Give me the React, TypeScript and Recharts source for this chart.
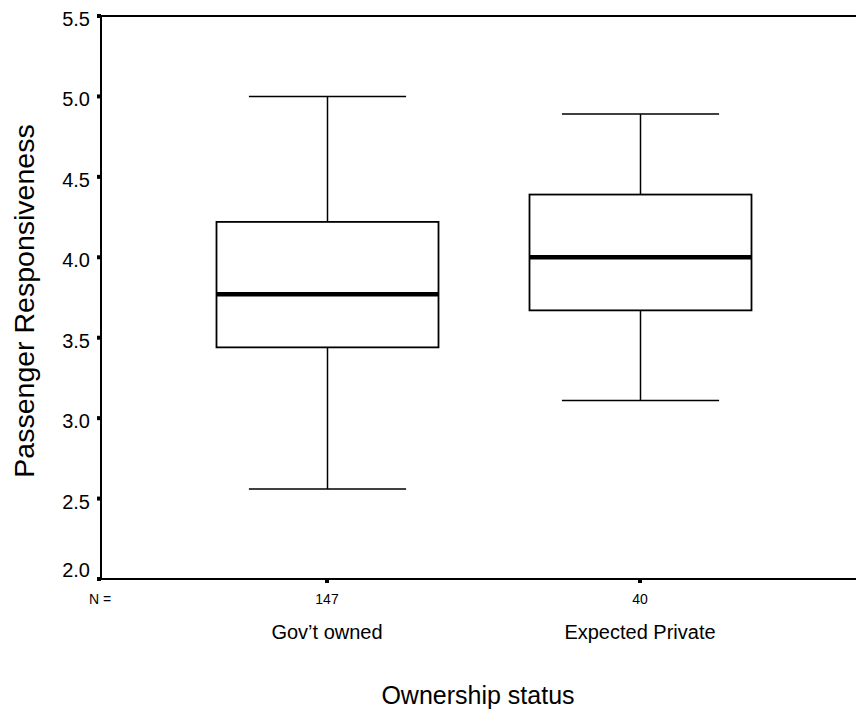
import { ComposedChart, Bar, XAxis, YAxis, ReferenceLine, Label } from "recharts";

const groups = ["Gov’t owned", "Expected Private"];
const counts = [147, 40];
const mins = [2.56, 3.11];
const q1s = [3.44, 3.67];
const medians = [3.77, 4.0];
const q3s = [4.22, 4.39];
const maxs = [5.0, 4.89];
const yTicks = [2.0, 2.5, 3.0, 3.5, 4.0, 4.5, 5.0, 5.5];

const data = groups.map((g, i) => ({
  group: g,
  n: counts[i],
  min: mins[i],
  q1: q1s[i],
  median: medians[i],
  q3: q3s[i],
  max: maxs[i],
  range: [mins[i], maxs[i]],
}));

const BoxShape = (props: any) => {
  const { x, y, width, height, payload } = props;
  const k = height / (payload.max - payload.min);
  const yOf = (v: number) => y + (payload.max - v) * k;
  const cx = x + width / 2;
  const cap = width * 0.354;
  return (
    <g stroke="#000" fill="none">
      <line x1={cx} x2={cx} y1={yOf(payload.max)} y2={yOf(payload.q3)} strokeWidth={1.5} />
      <line x1={cx} x2={cx} y1={yOf(payload.q1)} y2={yOf(payload.min)} strokeWidth={1.5} />
      <line x1={cx - cap} x2={cx + cap} y1={yOf(payload.max)} y2={yOf(payload.max)} strokeWidth={1.5} />
      <line x1={cx - cap} x2={cx + cap} y1={yOf(payload.min)} y2={yOf(payload.min)} strokeWidth={1.5} />
      <rect
        x={x}
        y={yOf(payload.q3)}
        width={width}
        height={yOf(payload.q1) - yOf(payload.q3)}
        fill="#fff"
        strokeWidth={1.8}
      />
      <line x1={x} x2={x + width} y1={yOf(payload.median)} y2={yOf(payload.median)} strokeWidth={4.5} />
    </g>
  );
};

const YTick = ({ x, y, payload }: any) => (
  <text x={x} y={y} dy={payload.value === 2 ? -2 : 10} textAnchor="end" fontSize={20} fill="#000">
    {payload.value.toFixed(1)}
  </text>
);

const XTick = ({ x, y, payload, index }: any) => (
  <g>
    <text x={x} y={y} dy={19} textAnchor="middle" fontSize={14} fill="#000">
      {counts[index]}
    </text>
    <text x={x} y={y} dy={54} textAnchor="middle" fontSize={20} fill="#000">
      {payload.value}
    </text>
  </g>
);

export default function App() {
  return (
    <div
      style={{
        position: "absolute",
        left: 0,
        top: 0,
        width: 856,
        height: 712,
        background: "#fff",
        fontFamily: "'Liberation Sans', Arial, sans-serif",
      }}
    >
      <ComposedChart width={856} height={712} data={data} margin={{ top: 16, right: 0, bottom: 73, left: 0 }}>
        <XAxis
          dataKey="group"
          type="category"
          height={60}
          padding={{ left: 69.5, right: 59.5 }}
          axisLine={{ stroke: "#000", strokeWidth: 2 }}
          tickLine={{ stroke: "#000", strokeWidth: 4 }}
          tickSize={4}
          tick={<XTick />}
          interval={0}
        >
          <Label
            content={() => (
              <g>
                <text x={89} y={604} fontSize={14} fill="#000">
                  N =
                </text>
                <text x={478} y={704} textAnchor="middle" fontSize={25} fill="#000">
                  Ownership status
                </text>
              </g>
            )}
          />
        </XAxis>
        <YAxis
          type="number"
          domain={[2, 5.5]}
          ticks={yTicks}
          width={101}
          axisLine={{ stroke: "#000", strokeWidth: 2 }}
          tickLine={{ stroke: "#000", strokeWidth: 4 }}
          tickSize={4}
          tickMargin={7}
          tick={<YTick />}
          allowDataOverflow
        >
          <Label
            content={() => (
              <text
                x={34}
                y={301}
                transform="rotate(-90 34 301)"
                textAnchor="middle"
                fontSize={28.5}
                fill="#000"
              >
                Passenger Responsiveness
              </text>
            )}
          />
        </YAxis>
        <ReferenceLine y={5.5} stroke="#000" strokeWidth={2} />
        <Bar dataKey="range" barSize={222} shape={<BoxShape />} isAnimationActive={false} />
      </ComposedChart>
    </div>
  );
}
